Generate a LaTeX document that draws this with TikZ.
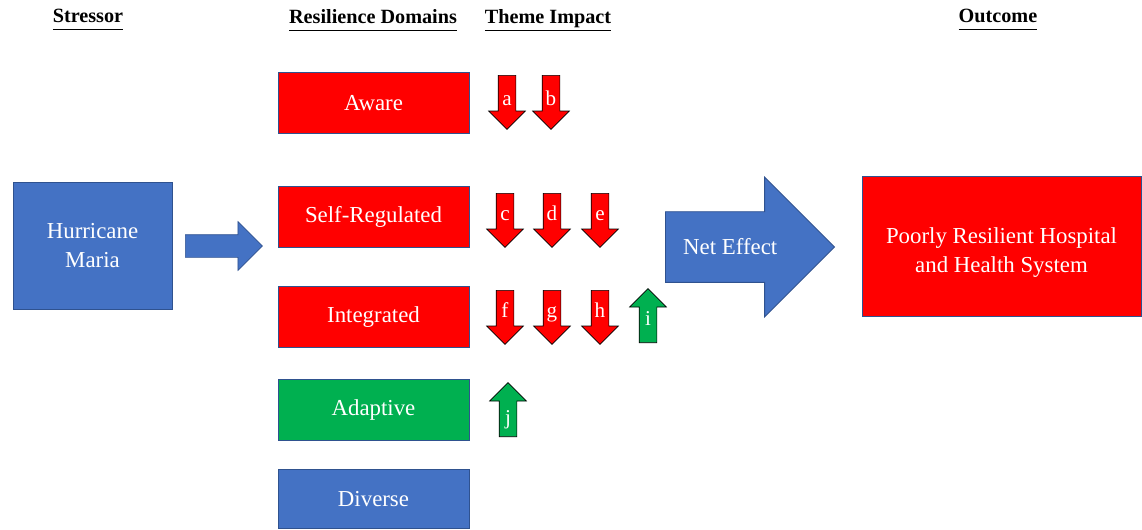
\documentclass[tikz,border=0pt]{standalone}
\usepackage{fontspec}
\setmainfont{Liberation Serif}
\usepackage{xcolor}
\usetikzlibrary{shapes.arrows,positioning}

\definecolor{pblue}{HTML}{4472C4}
\definecolor{pred}{HTML}{FF0000}
\definecolor{pgreen}{HTML}{00B050}
\definecolor{pedge}{HTML}{2F528F}

\newcommand{\hdr}[1]{\underline{#1\vphantom{p}}}

\begin{document}
\begin{tikzpicture}[x=0.02cm, y=-0.02cm,
  box/.style={rectangle, draw=pedge, line width=0.5pt, text=white,
    font=\fontsize{13}{16.5}\selectfont, align=center, inner sep=0pt},
  dombox/.style={box, minimum width=3.82cm, minimum height=1.22cm},
  theme/.style={single arrow, draw=black, line width=0.4pt, text=white,
    font=\fontsize{12}{14}\selectfont, inner sep=0pt,
    text width=0.34cm, align=center, text height=1.5ex, text depth=0.25ex,
    minimum height=1.08cm, minimum width=0.72cm,
    single arrow head extend=0.19cm, single arrow tip angle=90, anchor=tail},
  negarr/.style={theme, fill=pred, shape border rotate=270},
  posarr/.style={theme, fill=pgreen, shape border rotate=90},
  head/.style={font=\fontsize{11.5}{14}\selectfont\bfseries}]
  \useasboundingbox (0,0) rectangle (1142,529);

  % headings
  \node[head] (hstress) at (88,20)  {\hdr{Stressor}};
  \node[head] (hdomain) at (373,20) {\hdr{Resilience Domains}};
  \node[head] (htheme)  at (548,20) {\hdr{Theme Impact}};
  \node[head] (hout)    at (998,20) {\hdr{Outcome}};

  % stressor
  \node[box, fill=pblue, minimum width=3.18cm, minimum height=2.54cm]
    (maria) at (92.5,245.5) {Hurricane\\Maria};
  \node[single arrow, draw=pedge, fill=pblue, line width=0.4pt, inner sep=0pt,
    text height=0.22cm, text depth=0.22cm,
    minimum height=1.54cm, minimum width=0.96cm, single arrow head extend=0.26cm,
    single arrow tip angle=90, anchor=tail] (push) at (185,246) {};

  % domains
  \node[dombox, fill=pred]   (aware)   at (373.5,103) {Aware};
  \node[dombox, fill=pred]   (selfreg) at (373.5,216.5) {Self-Regulated};
  \node[dombox, fill=pred]   (integ)   at (373.5,317) {Integrated};
  \node[dombox, fill=pgreen] (adapt)   at (373.5,409.5) {Adaptive};
  \node[dombox, fill=pblue, minimum height=1.18cm] (divers) at (373.5,499) {Diverse};

  % theme impact
  \node[negarr, text height=1.5ex+3.4pt] (ta) at (507,75)  {a};
  \node[negarr, text height=1.5ex+3.4pt] (tb) at (551,75)  {b};
  \node[negarr] (tc) at (505,193) {c};
  \node[negarr] (td) at (552,193) {d};
  \node[negarr] (te) at (600,193) {e};
  \node[negarr] (tf) at (505,290) {f};
  \node[negarr] (tg) at (552,290) {g};
  \node[negarr] (th) at (600,290) {h};
  \node[posarr] (ti) at (648,343) {i};
  \node[posarr, text height=1.5ex+6pt] (tj) at (508,437) {j};

  % net effect and outcome
  \node[single arrow, draw=pedge, fill=pblue, line width=0.5pt, text=white,
    font=\fontsize{13}{15.8}\selectfont, inner sep=0pt,
    text height=24.1pt, text depth=15.6pt,
    minimum height=3.38cm, minimum width=2.78cm, single arrow head extend=0.69cm,
    single arrow tip angle=90, anchor=tail] (net) at (665,247) {Net Effect\hspace*{0.08cm}};
  \node[box, fill=pred, minimum width=5.58cm, minimum height=2.8cm]
    (outcome) at (1001.5,246) {\rule{0pt}{17pt}Poorly Resilient Hospital\\and Health System};
\end{tikzpicture}
\end{document}
